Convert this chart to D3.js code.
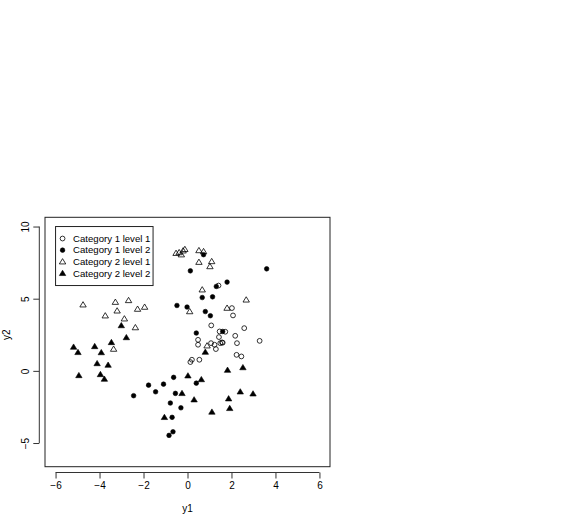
<!DOCTYPE html>
<html><head><meta charset="utf-8">
<script src="https://cdn.jsdelivr.net/npm/d3@7"></script>
<style>body{margin:0;background:#fff}svg{display:block}text{font-family:"Liberation Sans",Arial,Helvetica,sans-serif}</style>
</head><body>
<svg id="c" width="572" height="514"></svg>
<script>
// Category 1 level 1 (open circles)
const cat1Level1 = [
  [1.41,5.91],[2.02,4.35],[2.07,3.84],[1.08,3.15],[0.48,2.15],[0.48,1.81],
  [1.46,2.73],[1.72,2.71],[1.43,2.34],[2.58,2.96],[2.17,2.43],[2.25,1.92],
  [3.28,2.08],[1.49,1.92],[1.57,1.97],[1.07,1.92],[1.23,1.81],[1.29,1.51],
  [2.23,1.11],[2.45,1.00],[0.13,0.61],[0.20,0.77],[0.54,0.77],[1.60,1.95]
];
// Category 1 level 2 (filled circles)
const cat1Level2 = [
  [-2.45,-1.72],[-1.77,-0.99],[-1.45,-1.45],[-1.09,-0.92],[-0.63,-0.45],
  [-0.55,-1.56],[-0.78,-2.23],[-0.30,-2.56],[-0.70,-3.22],[-0.66,-4.22],
  [-0.84,-4.47],[0.40,-0.85],[0.73,8.05],[0.13,6.93],[3.60,7.07],
  [1.80,6.15],[1.31,5.85],[0.67,5.08],[1.14,5.13],[-0.48,4.53],
  [-0.02,4.42],[0.81,4.11],[1.04,3.82],[0.40,2.62],[1.60,2.73]
];
// Category 2 level 1 (open triangles)
const cat2Level1 = [
  [-4.75,4.58],[-3.28,4.76],[-2.68,4.88],[-3.20,4.16],[-3.74,3.82],
  [-2.27,4.28],[-1.95,4.42],[-2.87,3.61],[-2.37,3.00],[-3.36,1.51],
  [-0.52,8.15],[-0.38,8.20],[-0.28,8.05],[-0.20,8.32],[-0.12,8.42],
  [0.52,8.34],[0.73,8.27],[0.52,7.53],[1.10,7.58],[1.02,7.23],
  [0.67,5.62],[2.67,4.92],[1.80,4.35],[0.10,4.11],[0.89,1.74]
];
// Category 2 level 2 (filled triangles)
const cat2Level2 = [
  [-5.18,1.65],[-4.98,1.28],[-4.22,1.69],[-3.92,1.27],[-3.46,1.97],
  [-3.01,3.14],[-2.78,2.31],[-4.94,-0.32],[-4.11,0.51],[-3.96,-0.25],
  [-3.78,-0.57],[-3.61,0.40],[-1.05,-3.22],[-0.25,-1.56],[0.02,-0.34],
  [0.63,-0.60],[0.30,-2.00],[1.11,-2.85],[0.81,1.30],[1.82,0.05],
  [2.52,0.23],[2.40,-1.45],[2.98,-1.59],[1.87,-1.93],[1.92,-2.60]
];
const legendLabels = ["Category 1 level 1","Category 1 level 2","Category 2 level 1","Category 2 level 2"];
const xTicks = [-6,-4,-2,0,2,4,6];
const yTicks = [-5,0,5,10];
const xTitle = "y1", yTitle = "y2";

const svg = d3.select("#c");
const x = d3.scaleLinear().domain([-6.48,6.48]).range([45,330]);
const y = d3.scaleLinear().domain([-6.64,10.64]).range([466.7,217.3]);

const series = [
  {data:cat1Level1, shape:"circle", fill:false},
  {data:cat1Level2, shape:"circle", fill:true},
  {data:cat2Level1, shape:"triangle", fill:false},
  {data:cat2Level2, shape:"triangle", fill:true}
];

function drawSymbol(g, s, cx, cy){
  if(s.shape==="circle"){
    g.append("circle").attr("cx",cx).attr("cy",cy).attr("r", s.fill?2.3:2.4)
      .attr("fill", s.fill?"#000":"none").attr("stroke","#000").attr("stroke-width", s.fill?0.6:0.8);
  } else {
    const h=3.1;
    g.append("path").attr("d",`M${cx},${cy-h}L${cx+3.2},${cy+2.2}L${cx-3.2},${cy+2.2}Z`)
      .attr("fill", s.fill?"#000":"none").attr("stroke","#000").attr("stroke-width", s.fill?0.6:0.8);
  }
}

// plot box
svg.append("rect").attr("x",x.range()[0]).attr("y",y.range()[1])
  .attr("width",x.range()[1]-x.range()[0]).attr("height",y.range()[0]-y.range()[1])
  .attr("fill","none").attr("stroke","#222").attr("stroke-width",1);

// points
const pg = svg.append("g");
series.forEach(s => s.data.forEach(d => drawSymbol(pg, s, x(d[0]), y(d[1]))));

// x axis
const xa = svg.append("g").attr("transform","translate(0,472.5)")
  .call(d3.axisBottom(x).tickValues(xTicks).tickSize(6).tickPadding(3).tickSizeOuter(0));
xa.select(".domain").remove();
xa.append("line").attr("x1",x(xTicks[0])).attr("x2",x(xTicks[xTicks.length-1])).attr("stroke","#333");
xa.selectAll("text").attr("font-size",10).attr("fill","#000").style("font-family",'"Liberation Sans",Arial,sans-serif');
xa.selectAll(".tick line").attr("stroke","#333");

// y axis
const ya = svg.append("g").attr("transform","translate(39.3,0)")
  .call(d3.axisLeft(y).tickValues(yTicks).tickSize(6).tickSizeOuter(0));
ya.select(".domain").remove();
ya.append("line").attr("y1",y(yTicks[0])).attr("y2",y(yTicks[yTicks.length-1])).attr("stroke","#333");
ya.selectAll(".tick line").attr("stroke","#333");
ya.selectAll(".tick text").attr("x",null).attr("dy",null).attr("text-anchor","middle")
  .attr("transform","translate(-10,0) rotate(-90)").attr("font-size",10).attr("fill","#000")
  .style("font-family",'"Liberation Sans",Arial,sans-serif');

// axis titles
svg.append("text").attr("x",(x(-6)+x(6))/2).attr("y",512).attr("text-anchor","middle").attr("font-size",10).text(xTitle);
svg.append("text").attr("transform",`translate(10,${(y(10)+y(-5))/2}) rotate(-90)`).attr("text-anchor","middle").attr("font-size",10).text(yTitle);

// legend
const lg = svg.append("g");
const lx = x(-6), ly = y(10);
lg.append("rect").attr("x",lx).attr("y",ly).attr("width",97.5).attr("height",59)
  .attr("fill","#fff").attr("stroke","#222").attr("stroke-width",1);
legendLabels.forEach((lab,i)=>{
  const cy = ly + 12 + i*11.6;
  drawSymbol(lg, series[i], lx+7, cy);
  lg.append("text").attr("x",lx+17.5).attr("y",cy).attr("dy","0.35em").attr("font-size",9.6).text(lab);
});
</script>
</body></html>
